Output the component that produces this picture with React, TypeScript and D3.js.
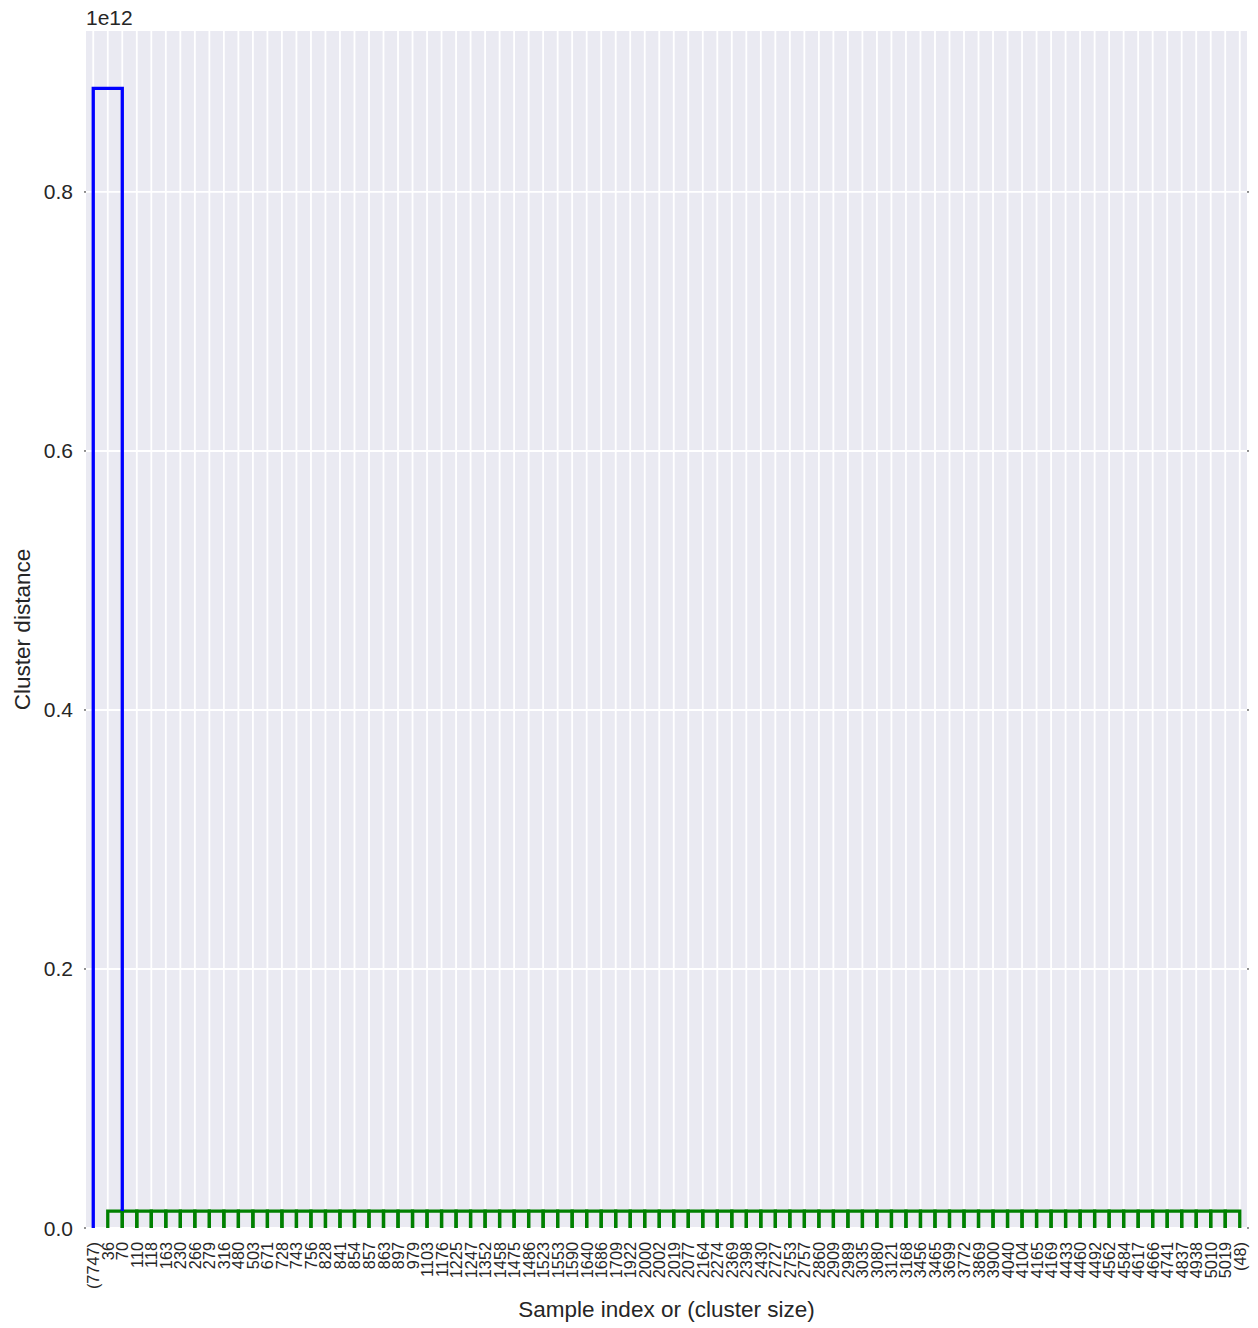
import React from "react";
import * as d3 from "d3";

// Leaf labels of the truncated dendrogram (sample index or (cluster size))
const leafLabels: string[] = [
  "(7747)", "36", "70", "110", "118", "163", "230", "266", "279", "316",
  "480", "503", "671", "728", "743", "756", "828", "841", "854", "857",
  "863", "897", "979", "1103", "1176", "1225", "1247", "1352", "1458", "1475",
  "1486", "1523", "1553", "1590", "1640", "1686", "1709", "1922", "2000", "2002",
  "2019", "2077", "2164", "2274", "2369", "2398", "2430", "2727", "2753", "2757",
  "2860", "2909", "2989", "3035", "3080", "3121", "3168", "3456", "3465", "3699",
  "3772", "3869", "3900", "4040", "4104", "4165", "4169", "4433", "4460", "4492",
  "4562", "4584", "4617", "4666", "4741", "4837", "4938", "5010", "5019", "(48)",
];

// Merge distances (in units of 1e12)
const topMergeDistance = 0.88;
const clusterMergeDistance = 0.0131;
// Leaves of the small-distance cluster (green) and where that cluster's node sits
const clusterLeaves: string[] = leafLabels.slice(1);
const clusterAnchorLeaf = "70";
const isolatedLeaf = "(7747)";

const yTicks: number[] = [0, 0.2, 0.4, 0.6, 0.8];
const yMax = 0.9243;

const W = 1258;
const H = 1328;
const plot = { left: 86, right: 1247, top: 31, bottom: 1228 };
const textColor = "#262626";
const font = "'Liberation Sans', Arial, sans-serif";

export default function App() {
  const x = d3
    .scaleLinear()
    .domain([0, leafLabels.length * 10])
    .range([plot.left, plot.right]);
  const y = d3.scaleLinear().domain([0, yMax]).range([plot.bottom, plot.top]);
  const leafX = (label: string) => x(leafLabels.indexOf(label) * 10 + 5);

  // Green cluster: consecutive leaves joined at the cluster merge distance
  const greenPaths: string[] = [];
  for (let i = 0; i < clusterLeaves.length - 1; i++) {
    const p = d3.path();
    const x0 = leafX(clusterLeaves[i]);
    const x1 = leafX(clusterLeaves[i + 1]);
    p.moveTo(x0, y(0));
    p.lineTo(x0, y(clusterMergeDistance));
    p.lineTo(x1, y(clusterMergeDistance));
    p.lineTo(x1, y(0));
    greenPaths.push(p.toString());
  }

  // Top link joining the isolated cluster with the green cluster
  const top = d3.path();
  top.moveTo(leafX(isolatedLeaf), y(0));
  top.lineTo(leafX(isolatedLeaf), y(topMergeDistance));
  top.lineTo(leafX(clusterAnchorLeaf), y(topMergeDistance));
  top.lineTo(leafX(clusterAnchorLeaf), y(clusterMergeDistance));

  return (
    <svg width={W} height={H} style={{ display: "block", position: "absolute", left: 0, top: 0 }}>
      <rect x={0} y={0} width={W} height={H} fill="#ffffff" />
      <rect
        x={plot.left}
        y={plot.top}
        width={plot.right - plot.left}
        height={plot.bottom - plot.top}
        fill="#EAEAF2"
      />
      {/* grid */}
      {leafLabels.map((l, i) => (
        <line
          key={"gx" + i}
          x1={x(i * 10 + 5)}
          x2={x(i * 10 + 5)}
          y1={plot.top}
          y2={plot.bottom}
          stroke="#ffffff"
          strokeWidth={1.8}
        />
      ))}
      {yTicks.map((t) => (
        <line
          key={"gy" + t}
          x1={plot.left}
          x2={plot.right}
          y1={y(t)}
          y2={y(t)}
          stroke="#ffffff"
          strokeWidth={1.8}
        />
      ))}
      {/* links */}
      {greenPaths.map((d, i) => (
        <path key={"g" + i} d={d} fill="none" stroke="#008000" strokeWidth={3.3} strokeLinejoin="miter" />
      ))}
      <path d={top.toString()} fill="none" stroke="#0000FF" strokeWidth={3.3} strokeLinejoin="miter" />
      {/* y ticks */}
      {yTicks.map((t) => (
        <g key={"yt" + t}>
          <line x1={plot.left - 2} x2={plot.left} y1={y(t)} y2={y(t)} stroke={textColor} strokeWidth={1} />
          <line x1={plot.right} x2={plot.right + 2} y1={y(t)} y2={y(t)} stroke={textColor} strokeWidth={1} />
          <text
            x={plot.left - 13}
            y={y(t)}
            textAnchor="end"
            dominantBaseline="central"
            fontFamily={font}
            fontSize={21}
            fill={textColor}
          >
            {d3.format(".1f")(t)}
          </text>
        </g>
      ))}
      <text x={plot.left} y={25} fontFamily={font} fontSize={21} fill={textColor}>
        1e12
      </text>
      {/* x tick labels */}
      {leafLabels.map((l, i) => {
        const cx = x(i * 10 + 5);
        const ty = plot.bottom + 14;
        return (
          <text
            key={"xt" + i}
            transform={`translate(${cx},${ty}) rotate(-90)`}
            textAnchor="end"
            dominantBaseline="central"
            fontFamily={font}
            fontSize={16.3}
            fill={textColor}
          >
            {l}
          </text>
        );
      })}
      <text
        x={(plot.left + plot.right) / 2}
        y={1317}
        textAnchor="middle"
        fontFamily={font}
        fontSize={22.5}
        fill={textColor}
      >
        Sample index or (cluster size)
      </text>
      <text
        transform={`translate(30,${(plot.top + plot.bottom) / 2}) rotate(-90)`}
        textAnchor="middle"
        fontFamily={font}
        fontSize={22.5}
        fill={textColor}
      >
        Cluster distance
      </text>
    </svg>
  );
}
